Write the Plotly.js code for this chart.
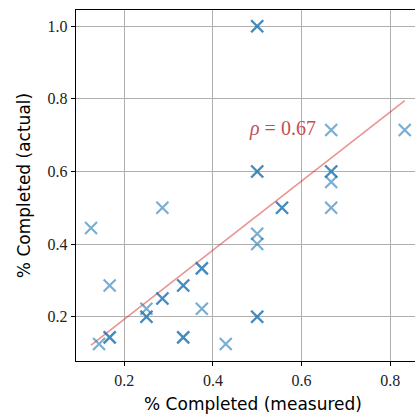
<!DOCTYPE html>
<html><head><meta charset="utf-8">
<script src="https://cdn.plot.ly/plotly-3.0.1.min.js"></script>
<style>html,body{margin:0;padding:0;overflow:hidden;background:#fff}#plot{width:440px;height:417px}</style>
</head><body><div id="plot"></div>
<script>
// measured vs actual completion fractions (duplicates drawn twice -> darker)
const measured = [0.5,0.5, 0.5,0.5, 0.5,0.5, 0.5, 0.5, 0.667, 0.667,0.667, 0.667, 0.667, 0.833,
  0.556,0.556, 0.125, 0.286, 0.167, 0.375,0.375, 0.333,0.333, 0.286,0.286, 0.25, 0.25,0.25,
  0.375, 0.333,0.333, 0.167,0.167, 0.143, 0.429];
const actual = [1.0,1.0, 0.6,0.6, 0.2,0.2, 0.4286, 0.4, 0.714, 0.6,0.6, 0.571, 0.5, 0.714,
  0.5,0.5, 0.444, 0.5, 0.286, 0.333,0.333, 0.286,0.286, 0.25,0.25, 0.222, 0.2,0.2,
  0.222, 0.143,0.143, 0.143,0.143, 0.125, 0.125];
const fitSlope = 0.951;
const fitIntercept = 0.003;
const rhoText = "<i>\u03C1</i> = 0.67";

const xmin = Math.min(...measured), xmax = Math.max(...measured);
const fitX = [xmin, xmax];
const fitY = fitX.map(v => fitSlope * v + fitIntercept);

const traces = [
  {x: fitX, y: fitY, mode: 'lines', line: {color: 'rgba(214,39,40,0.5)', width: 1.6}, hoverinfo: 'skip'},
  {x: measured, y: actual, mode: 'markers',
   marker: {symbol: 'x-thin-open', size: 12, color: '#1f77b4', opacity: 0.6, line: {width: 2.2, color: '#1f77b4'}}}
];
const tickFont = {family: 'Liberation Serif, DejaVu Serif, serif', size: 16, color: '#222'};
const layout = {
  width: 440, height: 417, showlegend: false,
  margin: {l: 76, r: 10, t: 10, b: 56},
  paper_bgcolor: '#fff', plot_bgcolor: '#fff',
  xaxis: {range: [0.091, 0.89], tickvals: [0.2,0.4,0.6,0.8], ticktext: ['0.2','0.4','0.6','0.8'],
    showgrid: true, gridcolor: '#b0b0b0', gridwidth: 1, zeroline: false,
    showline: true, linecolor: '#000', linewidth: 1.3, mirror: true,
    ticks: 'outside', ticklen: 4, tickcolor: '#000', tickfont: tickFont,
    title: {text: '% Completed (measured)', font: {family: 'DejaVu Sans, sans-serif', size: 17, color: '#000'}, standoff: 10}},
  yaxis: {range: [0.078, 1.0446], tickvals: [0.2,0.4,0.6,0.8,1.0], ticktext: ['0.2','0.4','0.6','0.8','1.0'],
    showgrid: true, gridcolor: '#b0b0b0', gridwidth: 1, zeroline: false,
    showline: true, linecolor: '#000', linewidth: 1.3, mirror: true,
    ticks: 'outside', ticklen: 4, tickcolor: '#000', tickfont: tickFont,
    title: {text: '% Completed (actual)', font: {family: 'DejaVu Sans, sans-serif', size: 17, color: '#000'}, standoff: 12}},
  annotations: [{x: 0.477, y: 0.717, xanchor: 'left', yanchor: 'middle', text: rhoText, showarrow: false,
    font: {family: 'Liberation Serif, DejaVu Serif, serif', size: 20, color: '#c44e52'}}]
};
Plotly.newPlot('plot', traces, layout, {staticPlot: true, displayModeBar: false});
</script></body></html>
